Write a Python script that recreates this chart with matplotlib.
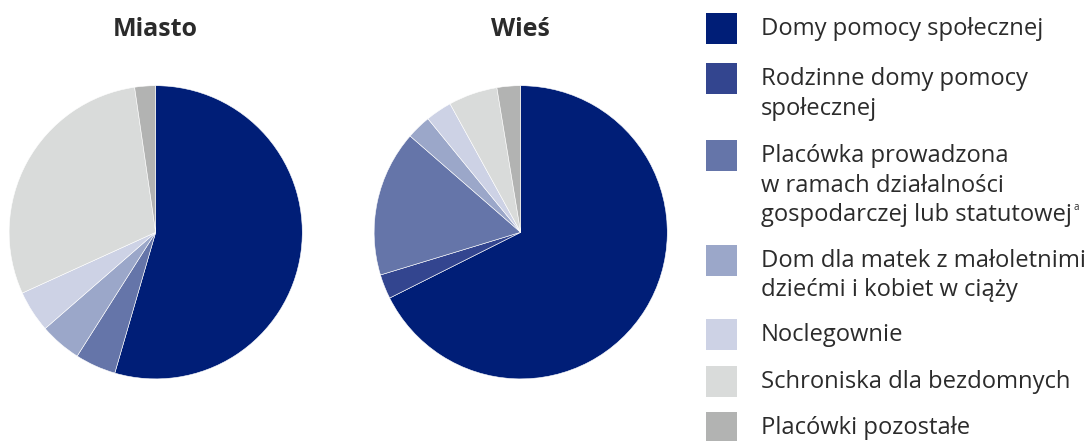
import matplotlib.pyplot as plt
from matplotlib.patches import Rectangle

# data (shares, %)
labels = [
    "Domy pomocy społecznej",
    "Rodzinne domy pomocy\nspołecznej",
    "Placówka prowadzona\nw ramach działalności\ngospodarczej lub statutowej",
    "Dom dla matek z małoletnimi\ndziećmi i kobiet w ciąży",
    "Noclegownie",
    "Schroniska dla bezdomnych",
    "Placówki pozostałe",
]
miasto = [54.5, 0.0, 4.5, 4.6, 4.6, 29.5, 2.3]
wies = [67.6, 2.7, 16.1, 2.7, 2.9, 5.4, 2.6]
titles = ["Miasto", "Wieś"]
colors = ["#001e77", "#33458f", "#6575a9", "#9ba7c9", "#cdd2e5", "#d9dbda", "#b2b3b2"]

W, H = 1091, 441
TXT = "#2b2b2b"
FONT = "Open Sans"

fig = plt.figure(figsize=(W / 100, H / 100), dpi=100)

# pies: centres and radius in pixels
r = 146.6
for cx, vals, title in [(155.7, miasto, titles[0]), (520.7, wies, titles[1])]:
    cy = 232.3
    ax = fig.add_axes([(cx - r) / W, (H - cy - r) / H, 2 * r / W, 2 * r / H])
    v = [x for x in vals if x > 0]
    c = [col for x, col in zip(vals, colors) if x > 0]
    ax.pie(v, colors=c, startangle=90, counterclock=False, radius=1,
           wedgeprops=dict(edgecolor="white", linewidth=0.4))
    ax.set_xlim(-1, 1)
    ax.set_ylim(-1, 1)
    ax.axis("off")
    fig.text(cx / W, 1 - 36 / H, title, ha="center", va="baseline",
             fontsize=18, fontweight="bold", family=FONT, color=TXT)

# legend drawn in pixel coordinates
lax = fig.add_axes([0, 0, 1, 1])
lax.set_xlim(0, W)
lax.set_ylim(H, 0)
lax.axis("off")

leg_tops = [13.3, 63.3, 140, 245, 319.3, 366, 412.3]
line_h = 29.5
for top, lab, col in zip(leg_tops, labels, colors):
    lax.add_patch(Rectangle((706, top), 31, 31, facecolor=col, edgecolor="none"))
    lines = lab.split("\n")
    for i, ln in enumerate(lines):
        t = lax.text(761, top + 22 + i * line_h, ln, ha="left", va="baseline",
                     fontsize=17.1, family=FONT, color=TXT)
    if lab.startswith("Placówka"):
        fig.canvas.draw()
        bb = t.get_window_extent()
        x_end = bb.x1
        lax.text(x_end + 1, top + 22 + (len(lines) - 1) * line_h - 11, "a",
                 ha="left", va="baseline", fontsize=7, family=FONT, color=TXT)

fig.savefig("out.png", dpi=100)
